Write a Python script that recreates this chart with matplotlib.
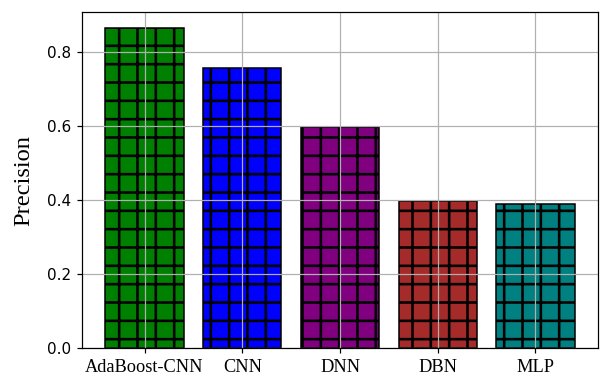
import matplotlib.pyplot as plt

models = ['AdaBoost-CNN', 'CNN', 'DNN', 'DBN', 'MLP']
precision = [0.866, 0.758, 0.597, 0.398, 0.389]
colors = ['green', 'blue', 'purple', 'brown', 'teal']

plt.rcParams['hatch.linewidth'] = 1.7

fig = plt.figure(figsize=(601 / 110, 376 / 110), dpi=110)
ax = fig.add_axes([0.1364, 0.0745, 0.8586, 0.8935])

ax.bar(models, precision, color=colors, edgecolor='black', hatch='+', width=0.8)
ax.grid(True)

ax.set_ylabel('Precision', fontfamily='Liberation Serif', fontsize=16, labelpad=8)
for lbl in ax.get_xticklabels():
    lbl.set_fontfamily('Liberation Serif')
    lbl.set_fontsize(12)
ax.tick_params(axis='y', labelsize=10)

fig.savefig('out.png', dpi=110)
